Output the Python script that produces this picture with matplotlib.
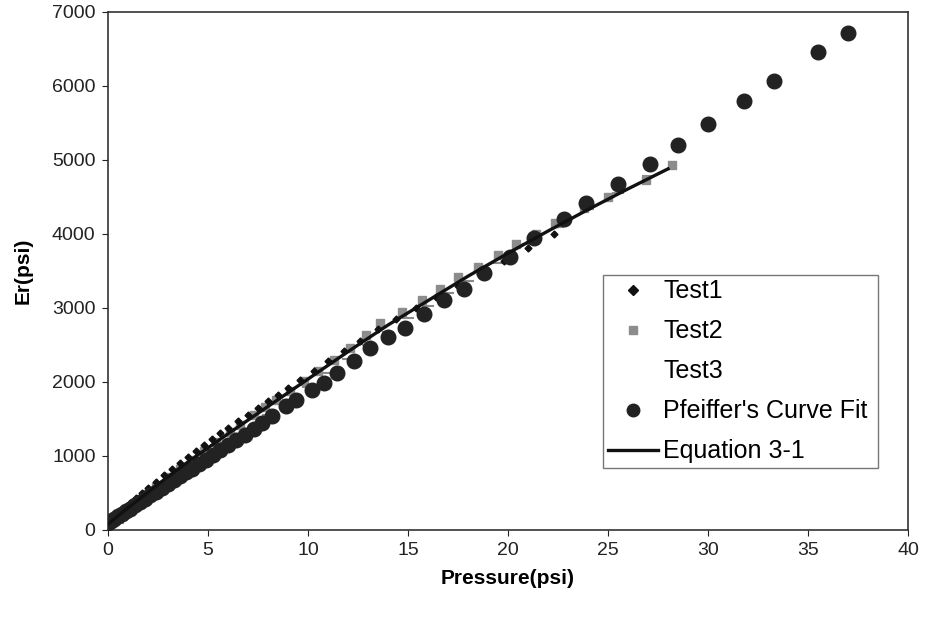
import matplotlib
matplotlib.use('Agg')
import matplotlib.pyplot as plt
from matplotlib.lines import Line2D

plt.rcParams['font.family'] = ['Liberation Sans', 'DejaVu Sans']

# Pfeiffer's curve fit
pf_x = [0, 0.15, 0.3, 0.5, 0.7, 0.9, 1.1, 1.35, 1.6, 1.85, 2.1, 2.4, 2.7, 3.0, 3.3,
        3.6, 3.9, 4.2, 4.55, 4.9, 5.25, 5.6, 6.0, 6.4, 6.85, 7.3, 7.7, 8.2, 8.9, 9.4,
        10.2, 10.8, 11.45, 12.3, 13.1, 14.0, 14.85, 15.8, 16.8, 17.8, 18.8, 20.1,
        21.3, 22.8, 23.9, 25.5, 27.1, 28.5, 30.0, 31.8, 33.3, 35.5, 37.0]
pf_y = [90, 120, 150, 185, 220, 255, 290, 335, 380, 425, 470, 520, 570, 625, 675,
        725, 780, 830, 890, 950, 1010, 1075, 1145, 1215, 1290, 1370, 1450, 1541, 1676, 1757,
        1896, 1991, 2122, 2290, 2455, 2604, 2730, 2914, 3108, 3257, 3473, 3693,
        3942, 4199, 4415, 4676, 4942, 5199, 5482, 5797, 6068, 6464, 6720]

# Equation 3-1
eq_x = [0, 1, 2, 3, 4, 5, 6, 8, 10, 12, 14, 16, 18, 20, 22, 24, 26, 28]
eq_y = [80, 300, 510, 720, 920, 1110, 1300, 1670, 2040, 2410, 2770, 3100, 3430,
        3740, 4040, 4330, 4610, 4880]

# Test1
t1_x = [0.2, 0.5, 0.8, 1.1, 1.4, 1.7, 2.0, 2.4, 2.8, 3.2, 3.6, 4.0, 4.4, 4.8, 5.2,
        5.6, 6.0, 6.5, 7.0, 7.5, 8.0, 8.5, 9.0, 9.6, 10.3, 11.0, 11.8, 12.6, 13.5,
        14.4, 15.4, 16.4, 17.5, 18.6, 19.8, 21.0, 22.3]
t1_y = [140, 215, 290, 360, 430, 500, 570, 655, 740, 825, 910, 990, 1070, 1150, 1230,
        1305, 1380, 1470, 1560, 1650, 1740, 1830, 1920, 2030, 2150, 2280, 2420, 2560,
        2710, 2850, 3000, 3150, 3300, 3460, 3640, 3810, 4000]

# Test2
t2_x = [0.3, 0.8, 1.3, 1.8, 2.4, 3.0, 3.6, 4.2, 4.8, 5.4, 6.1, 6.6, 7.3, 7.85, 8.4,
        9.1, 9.8, 10.5, 11.3, 12.1, 12.9, 13.6, 14.7, 15.7, 16.6, 17.5, 18.5, 19.5,
        20.4, 21.4, 22.35, 23.8, 25.0, 26.9, 28.2]
t2_y = [120, 230, 340, 450, 580, 710, 830, 950, 1070, 1190, 1330, 1420, 1560, 1660,
        1760, 1880, 2010, 2150, 2300, 2460, 2640, 2793, 2950, 3108, 3253, 3423, 3560,
        3720, 3860, 4000, 4145, 4347, 4504, 4730, 4932]

# Test3
t3_x = [0.5, 1.2, 2.0, 2.8, 3.6, 4.4, 5.2, 6.0, 7.0, 8.0, 9.0, 10.0, 11.0, 12.0,
        13.0, 14.0, 15.0, 16.0, 17.0, 18.0, 19.5, 21.0, 22.5, 24.0, 25.5, 27.0]
t3_y = [100, 260, 420, 570, 730, 880, 1030, 1180, 1370, 1560, 1750, 1930, 2120,
        2310, 2500, 2680, 2860, 3030, 3200, 3360, 3610, 3860, 4100, 4340, 4560, 4780]

fig = plt.figure(figsize=(9.36, 6.18), dpi=100)
ax = fig.add_axes([0.1154, 0.1424, 0.8547, 0.8382])

ax.plot(t3_x, t3_y, linestyle='none', marker='_', ms=9, mew=1.5, color='#8a8a8a', zorder=2)
ax.plot(t2_x, t2_y, linestyle='none', marker='s', ms=6, color='#8c8c8c', zorder=3)
ax.plot(t1_x, t1_y, linestyle='none', marker='D', ms=3.5, color='#111111', zorder=3)
ax.plot(pf_x, pf_y, linestyle='none', marker='o', ms=10.5, color='#222222', zorder=4)
ax.plot(eq_x, eq_y, color='#111111', lw=2.4, zorder=5)

ax.set_xlim(0, 40)
ax.set_ylim(0, 7000)
ax.set_xticks(range(0, 41, 5))
ax.set_yticks(range(0, 7001, 1000))
ax.tick_params(labelsize=14, length=4, direction='out', colors='#222222', pad=5)
for s in ax.spines.values():
    s.set_color('#333333')
    s.set_linewidth(1.2)

ax.set_xlabel('Pressure(psi)', fontsize=15, fontweight='bold', labelpad=7)
ax.set_ylabel('Er(psi)', fontsize=15, fontweight='bold', labelpad=14)

handles = [
    Line2D([], [], linestyle='none', marker='D', ms=5, color='#111111'),
    Line2D([], [], linestyle='none', marker='s', ms=6, color='#8c8c8c'),
    Line2D([], [], linestyle='none'),
    Line2D([], [], linestyle='none', marker='o', ms=9, color='#222222'),
    Line2D([], [], color='#111111', lw=2.4),
]
labels = ['Test1', 'Test2', 'Test3', "Pfeiffer's Curve Fit", 'Equation 3-1']
leg = ax.legend(handles, labels, loc='lower left', bbox_to_anchor=(0.619, 0.12, 0.344, 0.376),
                mode='expand', fontsize=18, frameon=True, fancybox=False,
                handlelength=2.0, handletextpad=0.22, labelspacing=0.64, borderpad=0.18,
                borderaxespad=0)
leg.get_frame().set_edgecolor('#555555')
leg.get_frame().set_linewidth(1.0)

fig.savefig('out.png', dpi=100)
